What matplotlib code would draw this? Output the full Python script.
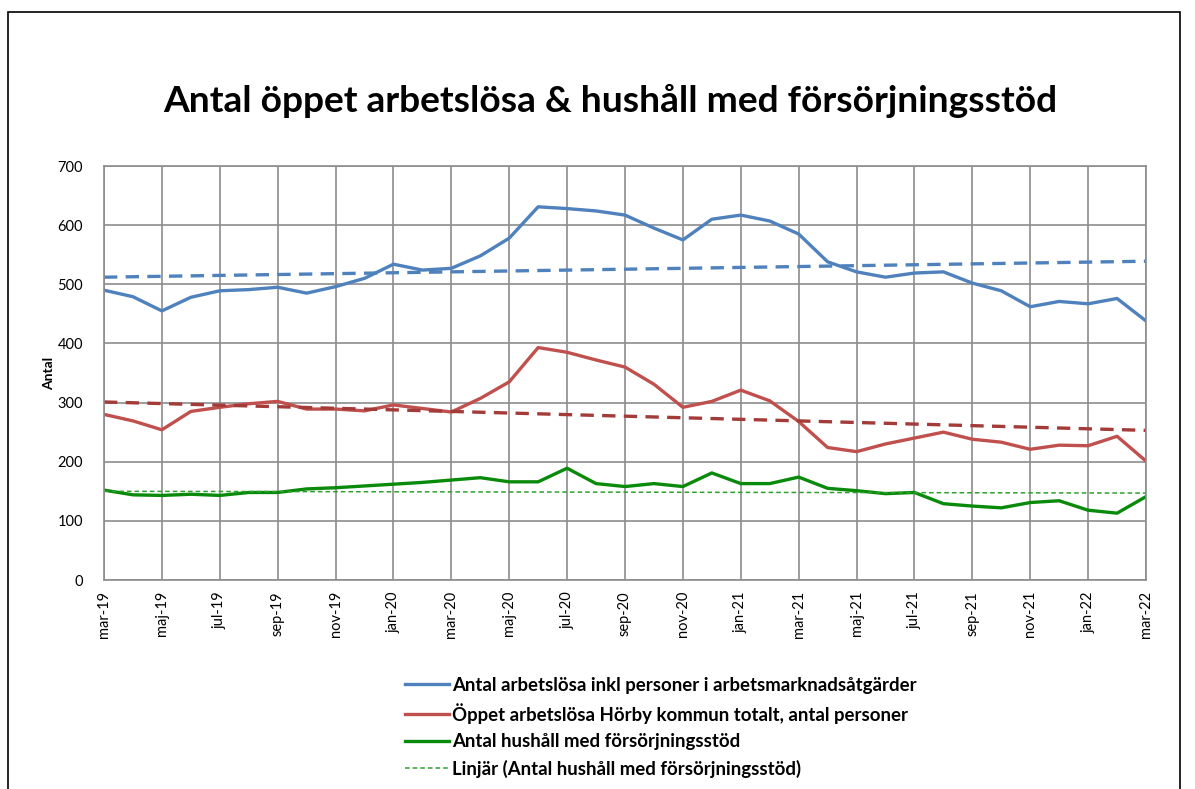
import numpy as np
import matplotlib
matplotlib.use('Agg')
import matplotlib.pyplot as plt
from matplotlib.patches import Rectangle

plt.rcParams['font.family'] = ['Lato', 'DejaVu Sans']

# monthly data mar-19 .. mar-22
months = ['mar', 'apr', 'maj', 'jun', 'jul', 'aug', 'sep', 'okt', 'nov', 'dec', 'jan', 'feb']
labels = []
for i in range(37):
    labels.append('%s-%d' % (months[i % 12], 19 + (2 + i) // 12))

arbetslosa_inkl = [490, 479, 455, 478, 489, 491, 495, 485, 496, 510, 534, 524,
                   527, 548, 578, 631, 628, 624, 617, 595, 575, 610, 617, 607,
                   585, 538, 521, 512, 519, 521, 502, 489, 462, 471, 467, 476, 438]
oppet_arbetslosa = [280, 269, 254, 285, 292, 298, 302, 289, 289, 286, 296, 290,
                    284, 307, 335, 393, 385, 372, 360, 331, 292, 302, 321, 303,
                    268, 224, 217, 230, 240, 250, 238, 233, 221, 228, 227, 243, 201]
hushall = [152, 144, 143, 145, 143, 148, 148, 154, 156, 159, 162, 165,
           169, 173, 166, 166, 189, 163, 158, 163, 158, 181, 163, 163,
           174, 155, 151, 146, 148, 129, 125, 122, 131, 134, 118, 113, 141]

# linear trend lines (start, end)
trend_arbetslosa = [512, 539]
trend_oppet = [301, 253]
trend_hushall = [150, 147]

legend_labels = ['Antal arbetslösa inkl personer i arbetsmarknadsåtgärder',
                 'Öppet arbetslösa Hörby kommun totalt, antal personer',
                 'Antal hushåll med försörjningsstöd',
                 'Linjär (Antal hushåll med försörjningsstöd)']

x = np.arange(len(labels))
x_ends = [x[0], x[-1]]

fig = plt.figure(figsize=(11.95, 7.89), dpi=100)
fig.patches.append(Rectangle((8 / 1195, -0.1), (1180 - 8) / 1195, 1.1 - 12 / 789,
                             transform=fig.transFigure, fill=False,
                             edgecolor='black', linewidth=1.2))

ax = fig.add_axes([104 / 1195, 1 - 580 / 789, (1146 - 104) / 1195, (580 - 166) / 789])

l1, = ax.plot(x, arbetslosa_inkl, color='#4F81BD', lw=2.4)
ax.plot(x_ends, trend_arbetslosa, color='#4F81BD', lw=2.4, ls=(0, (4, 2.5)))
l2, = ax.plot(x, oppet_arbetslosa, color='#C0504D', lw=2.4)
ax.plot(x_ends, trend_oppet, color='#A33B39', lw=2.4, ls=(0, (4, 2.5)))
l3, = ax.plot(x, hushall, color='#0A8A0A', lw=2.4)
l4, = ax.plot(x_ends, trend_hushall, color='#2EA02E', lw=1.1, ls=(0, (3, 2)))

ax.set_xlim(0, 36)
ax.set_ylim(0, 700)
ax.set_yticks(range(0, 701, 100))
ax.set_xticks(x[::2])
ax.set_xticklabels(labels[::2], rotation=90, fontsize=10.5)
ax.tick_params(axis='y', labelsize=10.5, length=0, pad=15)
ax.tick_params(axis='x', length=0, pad=8)
ax.grid(True, color='#8C8C8C', lw=1.2)
ax.set_axisbelow(True)
for s in ax.spines.values():
    s.set_color('#8C8C8C')
    s.set_linewidth(1.2)
ax.set_ylabel('Antal', fontsize=10, fontweight='bold', labelpad=2)

fig.text(610 / 1195, 1 - 101 / 789, 'Antal öppet arbetslösa & hushåll med försörjningsstöd',
         ha='center', va='center', fontsize=26.7, fontweight='bold')

fig.legend([l1, l2, l3, l4], legend_labels, loc='upper left',
           bbox_to_anchor=(388 / 1195, 1 - 660 / 789), frameon=False,
           handlelength=2.4, handletextpad=0.15, labelspacing=0.5,
           prop={'weight': 'bold', 'size': 13.4})

fig.savefig('out.png', dpi=100)
